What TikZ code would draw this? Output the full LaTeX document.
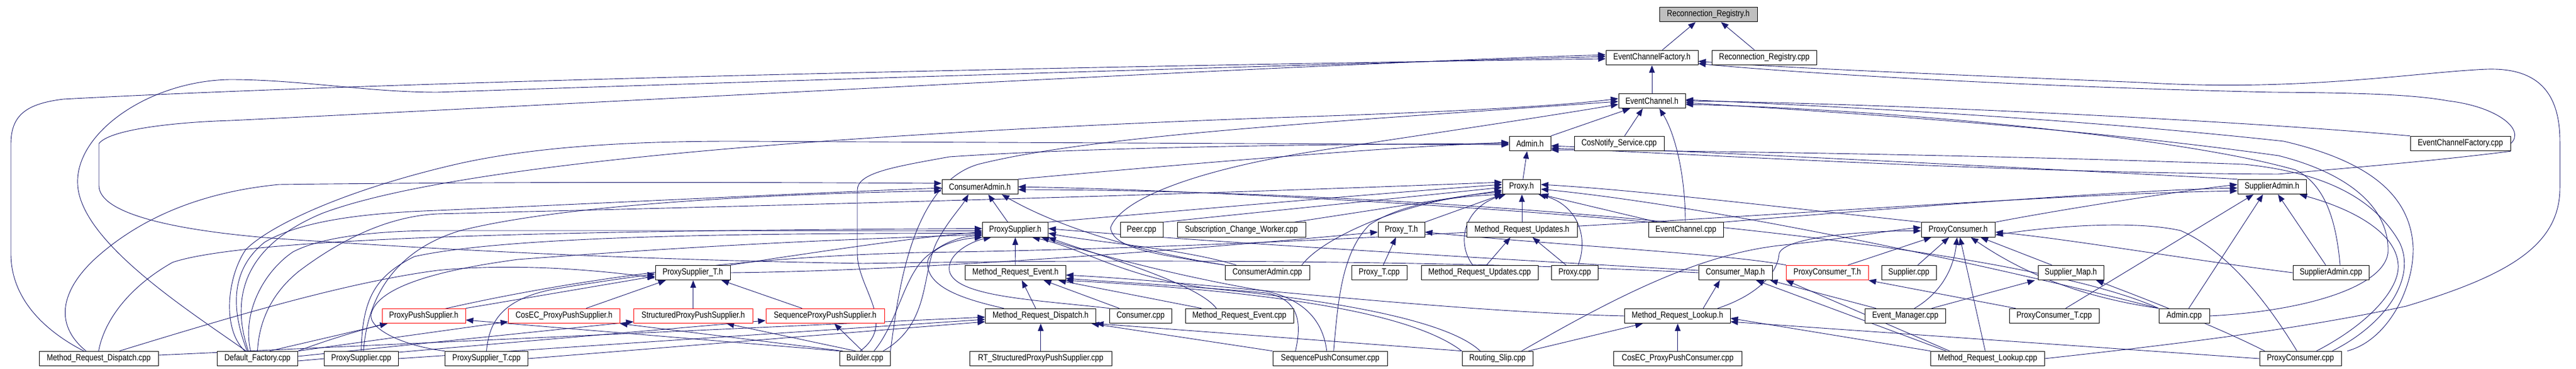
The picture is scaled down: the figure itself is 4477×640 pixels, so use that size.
\documentclass[tikz,border=0pt]{standalone}
\usepackage{fontspec}
\newfontfamily\dxfont[FakeStretch=0.84]{Liberation Sans}
\usetikzlibrary{arrows.meta}
\pgfdeclarelayer{bglayer}
\pgfdeclarelayer{edgelayer}
\pgfsetlayers{bglayer,edgelayer,main}
\definecolor{edgeblue}{RGB}{25,25,112}
\definecolor{rootgray}{RGB}{191,191,191}
\newcommand{\nd}[6]{\node[#1, minimum width={(#4-#3)*0.5pt}] (#2) at ({(#3+#4)/2},#5) {#6};}
\tikzset{
  nb/.style={draw=black, fill=white, line width=0.5pt, minimum height=12.75pt, inner sep=0pt,
    font=\dxfont\fontsize{7.7pt}{9pt}\selectfont},
  nr/.style={nb, draw=red},
  ng/.style={nb, fill=rootgray},
  ed/.style={draw=edgeblue, line width=0.45pt, -{Triangle[length=6.5pt,width=5pt]}}
}
\begin{document}
\begin{tikzpicture}[x=0.5pt,y=-0.5pt]
\begin{pgfonlayer}{bglayer}
\fill[white] (0,0) rectangle (4477,640);
\end{pgfonlayer}
\useasboundingbox (0,0) rectangle (4477,640);
% ---------------- nodes ----------------
\nd{ng}{rrh}{2884}{3054}{25}{Reconnection\_Registry.h}
\nd{nb}{ecfh}{2791}{2951}{100}{EventChannelFactory.h}
\nd{nb}{rrcpp}{2975.5}{3157}{100}{Reconnection\_Registry.cpp}
\nd{nb}{ech}{2813}{2929}{175}{EventChannel.h}
\nd{nb}{adminh}{2623}{2695}{249}{Admin.h}
\nd{nb}{cosnot}{2736}{2892}{249}{CosNotify\_Service.cpp}
\nd{nb}{ecfcpp}{4189}{4363}{249}{EventChannelFactory.cpp}
\nd{nb}{cah}{1637}{1769}{324}{ConsumerAdmin.h}
\nd{nb}{proxyh}{2611}{2677.5}{324}{Proxy.h}
\nd{nb}{sah}{3889}{4008}{324}{SupplierAdmin.h}
\nd{nb}{psh}{1707.5}{1821.5}{398.5}{ProxySupplier.h}
\nd{nb}{peer}{1947}{2021}{398.5}{Peer.cpp}
\nd{nb}{scw}{2046}{2269}{398.5}{Subscription\_Change\_Worker.cpp}
\nd{nb}{ptih}{2395}{2476}{398.5}{Proxy\_T.h}
\nd{nb}{mruh}{2549}{2741}{398.5}{Method\_Request\_Updates.h}
\nd{nb}{eccpp}{2865}{2995}{398.5}{EventChannel.cpp}
\nd{nb}{pch}{3339}{3467.5}{398.5}{ProxyConsumer.h}
\nd{nb}{psth}{1139}{1269}{473}{ProxySupplier\_T.h}
\nd{nb}{mreh}{1677.5}{1852}{473}{Method\_Request\_Event.h}
\nd{nb}{cacpp}{2129}{2276}{473}{ConsumerAdmin.cpp}
\nd{nb}{ptcpp}{2349}{2445}{473}{Proxy\_T.cpp}
\nd{nb}{mrucpp}{2470}{2673}{473}{Method\_Request\_Updates.cpp}
\nd{nb}{proxycpp}{2696.5}{2777}{473}{Proxy.cpp}
\nd{nb}{cmh}{2952}{3080}{473}{Consumer\_Map.h}
\nd{nr}{pcth}{3104.5}{3247}{473}{ProxyConsumer\_T.h}
\nd{nb}{supcpp}{3270}{3365}{473}{Supplier.cpp}
\nd{nb}{smh}{3542}{3656}{473}{Supplier\_Map.h}
\nd{nb}{sacpp}{3985}{4117}{473}{SupplierAdmin.cpp}
\nd{nr}{ppsh}{664}{809}{548}{ProxyPushSupplier.h}
\nd{nr}{cecppsh}{883.5}{1077}{548}{CosEC\_ProxyPushSupplier.h}
\nd{nr}{sppsh}{1101.5}{1308}{548}{StructuredProxyPushSupplier.h}
\nd{nr}{qppsh}{1331}{1537}{548}{SequenceProxyPushSupplier.h}
\nd{nb}{mrdh}{1712.5}{1904.5}{548}{Method\_Request\_Dispatch.h}
\nd{nb}{conscpp}{1928}{2036.5}{548}{Consumer.cpp}
\nd{nb}{mrecpp}{2060}{2248}{548}{Method\_Request\_Event.cpp}
\nd{nb}{mrlh}{2823.5}{3007}{548}{Method\_Request\_Lookup.h}
\nd{nb}{emcpp}{3241.5}{3381}{548}{Event\_Manager.cpp}
\nd{nb}{pctcpp}{3492}{3648}{548}{ProxyConsumer\_T.cpp}
\nd{nb}{admincpp}{3752}{3840}{548}{Admin.cpp}
\nd{nb}{mrdcpp}{68}{275}{622}{Method\_Request\_Dispatch.cpp}
\nd{nb}{dfcpp}{377.5}{517.5}{622}{Default\_Factory.cpp}
\nd{nb}{pscpp}{563.5}{692}{622}{ProxySupplier.cpp}
\nd{nb}{pstcpp}{773.5}{917.5}{622}{ProxySupplier\_T.cpp}
\nd{nb}{bldcpp}{1459}{1547}{622}{Builder.cpp}
\nd{nb}{rtcpp}{1685.5}{1932}{622}{RT\_StructuredProxyPushSupplier.cpp}
\nd{nb}{spccpp}{2212}{2411.5}{622}{SequencePushConsumer.cpp}
\nd{nb}{rscpp}{2541}{2664}{622}{Routing\_Slip.cpp}
\nd{nb}{cecpccpp}{2804.5}{3027}{622}{CosEC\_ProxyPushConsumer.cpp}
\nd{nb}{mrlcpp}{3355.5}{3553}{622}{Method\_Request\_Lookup.cpp}
\nd{nb}{pccpp}{3927}{4069}{622}{ProxyConsumer.cpp}
% ---------------- edges ----------------
\begin{pgfonlayer}{edgelayer}
% to Reconnection_Registry.h
\draw[ed] ([xshift=9pt]ecfh.north) -- ([xshift=-11pt]rrh.south);
\draw[ed] ([xshift=-8.5pt]rrcpp.north) -- ([xshift=11pt]rrh.south);
% to EventChannelFactory.h
\draw[ed] (ech.north) -- (ecfh.south);
\draw[ed] ([xshift=-13pt]mrdcpp.north) .. controls (80,575) and (19,520) .. (19,440) -- (19,250) .. controls (19,200) and (45,180) .. (110,172) .. controls (800,135) and (2200,110) .. ([yshift=-1pt]ecfh.west);
\draw[ed] ([xshift=-10pt]dfcpp.north) .. controls (330,540) and (140,420) .. (135,320) .. controls (130,230) and (260,140) .. (400,138) .. controls (520,138) and (640,160) .. (760,160) .. controls (1500,135) and (2300,112) .. ([yshift=1pt]ecfh.west);
\draw[ed] (cmh.west) .. controls (2500,450) and (1900,450) .. (1500,457) .. controls (1100,450) and (800,435) .. (485,414) .. controls (300,400) and (172,370) .. (172,322) -- (172,249) .. controls (190,225) and (300,212) .. (402,209) .. controls (1200,170) and (2300,110) .. ([yshift=2.5pt]ecfh.west);
\draw[ed] (ecfcpp.east) .. controls (4390,225) and (4340,185) .. (4255,175) .. controls (4200,165) and (4120,161) .. (3950,160) .. controls (3500,150) and (3100,125) .. ([yshift=1.5pt]ecfh.south east);
\draw[ed] (mrlcpp.east) .. controls (3800,595) and (4000,570) .. (4182,531) .. controls (4350,480) and (4449,430) .. (4449,326) -- (4449,245) .. controls (4449,150) and (4400,118) .. (4323,120) .. controls (4200,125) and (4000,160) .. (3720,143) .. controls (3400,130) and (3100,118) .. ([yshift=3.5pt]ecfh.south east);
% to EventChannel.h
\draw[ed] (adminh.north east) -- ([xshift=-19pt]ech.south);
\draw[ed] ([xshift=4.75pt]cosnot.north) -- ([xshift=-8pt]ech.south);
\draw[ed] ([xshift=-0.5pt]eccpp.north) .. controls (2929,300) and (2910,230) .. ([xshift=6.5pt]ech.south);
\draw[ed] (ecfcpp.north west) .. controls (3900,210) and (3300,180) .. (ech.east);
\draw[ed] ([xshift=-8pt]dfcpp.north) .. controls (395,500) and (440,420) .. (560,370) .. controls (800,280) and (1500,230) .. (2220,204) .. controls (2500,195) and (2700,185) .. ([yshift=2pt]ech.west);
\draw[ed] (bldcpp.north east) .. controls (1560,520) and (1580,320) .. (1700,285) .. controls (1900,235) and (2300,212) .. ([yshift=-0.5pt]ech.west);
\draw[ed] (cacpp.north west) .. controls (2000,440) and (1935,430) .. (1930,395) .. controls (1950,340) and (2100,290) .. (2300,260) .. controls (2500,230) and (2700,200) .. ([yshift=-3pt]ech.west);
\draw[ed] ([xshift=8pt]sacpp.north) .. controls (4060,380) and (4040,320) .. (3990,295) .. controls (3800,240) and (3300,190) .. ([yshift=-3pt]ech.east);
\draw[ed] (admincpp.east) .. controls (4000,540) and (4140,500) .. (4150,440) .. controls (4155,360) and (4080,300) .. (3960,270) .. controls (3600,220) and (3200,195) .. ([yshift=-1.5pt]ech.east);
\draw[ed] ([xshift=5pt]pccpp.north east) .. controls (4150,590) and (4195,500) .. (4194,430) .. controls (4190,340) and (4120,280) .. (3969,245) .. controls (3600,205) and (3200,185) .. ([yshift=1pt]ech.east);
% to Admin.h
\draw[ed] ([xshift=1.3pt]proxyh.north) -- ([xshift=-2.5pt]adminh.south);
\draw[ed] (cah.north east) .. controls (2000,290) and (2400,255) .. ([yshift=1pt]adminh.west);
\draw[ed] (sah.north west) .. controls (3500,290) and (3000,265) .. ([yshift=-2pt]adminh.east);
\draw[ed] ([xshift=-11pt]dfcpp.north) .. controls (385,570) and (395,480) .. (427,433) .. controls (470,390) and (600,330) .. (788,286) .. controls (900,260) and (1050,245) .. (1273,245) -- ([yshift=-1pt]adminh.west);
\draw[ed] ([xshift=-4pt]bldcpp.north) .. controls (1560,560) and (1490,500) .. (1490,440) -- (1490,330) .. controls (1490,300) and (1550,290) .. (1650,272) .. controls (1900,255) and (2300,250) .. (adminh.west);
\draw[ed] (ecfcpp.south east) .. controls (4250,277) and (4100,290) .. (3959,302) .. controls (3500,300) and (3000,270) .. ([yshift=-4pt]adminh.east);
\draw[ed] ([xshift=-8pt]pccpp.north east) .. controls (4150,560) and (4200,480) .. (4170,420) .. controls (4130,350) and (4050,300) .. (3900,285) .. controls (3500,270) and (3000,262) .. ([yshift=-5.5pt]adminh.east);
% to ConsumerAdmin.h
\draw[ed] ([xshift=-6.5pt]psh.north) -- ([xshift=7.25pt]cah.south);
\draw[ed] (cacpp.north west) .. controls (2000,440) and (1850,400) .. ([xshift=19pt]cah.south);
\draw[ed] ([xshift=16pt]bldcpp.north) .. controls (1620,560) and (1600,470) .. (1630,416) .. controls (1650,380) and (1670,360) .. ([xshift=-10pt]cah.south);
\draw[ed] ([xshift=-11pt]mrdcpp.north) .. controls (90,560) and (110,500) .. (165,449) .. controls (230,390) and (330,335) .. (485,320) .. controls (900,315) and (1300,316) .. ([yshift=3pt]cah.west);
\draw[ed] ([xshift=-9pt]dfcpp.north) .. controls (395,520) and (410,460) .. (460,420) .. controls (520,385) and (620,370) .. (760,365) .. controls (1100,350) and (1400,335) .. ([yshift=-1pt]cah.west);
\draw[ed] ([xshift=2pt]pscpp.north) .. controls (640,500) and (700,430) .. (800,400) .. controls (1000,350) and (1400,335) .. ([yshift=-3.5pt]cah.west);
\draw[ed] (eccpp.north west) .. controls (2600,360) and (2100,330) .. (cah.east);
\draw[ed] (admincpp.north west) .. controls (3500,420) and (2500,330) .. ([yshift=-2.5pt]cah.east);
% to Proxy.h
\draw[ed] (psh.north east) .. controls (2000,370) and (2400,335) .. ([yshift=2pt]proxyh.west);
\draw[ed] (pch.north west) .. controls (3100,360) and (2850,330) .. ([yshift=2pt]proxyh.east);
\draw[ed] (ptih.north east) -- (proxyh.south west);
\draw[ed] (mruh.north) -- (mruh.north |- proxyh.south);
\draw[ed] ([xshift=8pt]eccpp.north west) -- (proxyh.south east);
\draw[ed] (peer.north east) -- ([yshift=-0.5pt]proxyh.west);
\draw[ed] ([xshift=-10pt]scw.north east) -- ([yshift=-3pt]proxyh.west);
\draw[ed] ([xshift=-6pt]mrucpp.north) .. controls (2530,420) and (2545,360) .. ([xshift=3pt]proxyh.south west);
\draw[ed] ([xshift=3pt]proxycpp.north) .. controls (2762,410) and (2740,355) .. ([xshift=-2pt]proxyh.south east);
\draw[ed] ([xshift=30pt]cacpp.north) .. controls (2300,410) and (2450,345) .. ([yshift=-4.5pt]proxyh.west);
\draw[ed] ([xshift=3pt]spccpp.north) .. controls (2325,530) and (2330,440) .. (2380,390) .. controls (2440,350) and (2540,340) .. ([xshift=1pt]proxyh.south west);
\draw[ed] (dfcpp.north) .. controls (450,560) and (470,510) .. (520,470) .. controls (600,410) and (680,375) .. (760,371) .. controls (1400,355) and (2000,340) .. ([yshift=4pt]proxyh.west);
\draw[ed] (admincpp.north west) .. controls (3500,470) and (3000,360) .. ([yshift=-2pt]proxyh.east);
% to SupplierAdmin.h
\draw[ed] (pch.north east) .. controls (3600,360) and (3800,330) .. ([yshift=2pt]sah.west);
\draw[ed] ([xshift=4pt]admincpp.north) -- ([xshift=-7.75pt]sah.south);
\draw[ed] ([xshift=10pt]pctcpp.north) -- ([xshift=-16pt]sah.south);
\draw[ed] ([xshift=-4.5pt]sacpp.north) -- ([xshift=5.25pt]sah.south);
\draw[ed] ([xshift=14pt]pccpp.north) .. controls (4120,560) and (4170,500) .. (4168,460) .. controls (4165,400) and (4080,360) .. ([xshift=24pt]sah.south);
\draw[ed] (eccpp.north east) .. controls (3300,360) and (3700,330) .. ([yshift=-1pt]sah.west);
\draw[ed] (dfcpp.north east) .. controls (700,540) and (1100,450) .. (1600,438) .. controls (2500,425) and (3400,340) .. ([yshift=-3.5pt]sah.west);
% to ProxySupplier.h
\draw[ed] (psth.north east) .. controls (1400,440) and (1600,410) .. ([yshift=-2pt]psh.west);
\draw[ed] (mreh.north) -- (psh.south);
\draw[ed] ([xshift=-32pt]mrdh.north) .. controls (1680,520) and (1610,500) .. (1612,455) .. controls (1615,430) and (1660,415) .. (psh.south west);
\draw[ed] ([xshift=-27pt]conscpp.north) .. controls (1800,520) and (1660,515) .. (1650,470) .. controls (1645,440) and (1690,418) .. ([xshift=-21pt]psh.south);
\draw[ed] ([xshift=10pt]cacpp.north west) .. controls (2050,430) and (1900,420) .. ([yshift=-3pt]psh.east);
\draw[ed] ([xshift=-20pt]mrecpp.north) .. controls (2080,490) and (1900,440) .. (psh.south east);
\draw[ed] ([yshift=2pt]cmh.west) .. controls (2700,455) and (2100,420) .. ([yshift=1pt]psh.east);
\draw[ed] ([xshift=-3pt]spccpp.north) .. controls (2300,560) and (2270,520) .. (2200,505) .. controls (2050,480) and (1900,440) .. ([xshift=-6pt]psh.south east);
\draw[ed] ([xshift=-15pt]rscpp.north) .. controls (2500,540) and (2200,510) .. (2100,500) .. controls (1950,480) and (1880,430) .. ([xshift=-14pt]psh.south east);
\draw[ed] (mrdcpp.north) .. controls (180,560) and (220,500) .. (300,455) .. controls (420,415) and (900,400) .. ([yshift=1pt]psh.west);
\draw[ed] ([xshift=-6pt]dfcpp.north) .. controls (420,540) and (460,470) .. (509,437) .. controls (560,410) and (660,400) .. (760,400) .. controls (1200,400) and (1500,400) .. ([yshift=-1pt]psh.west);
\draw[ed] (pscpp.north) .. controls (630,520) and (650,480) .. (720,445) .. controls (900,405) and (1400,405) .. ([yshift=-3pt]psh.west);
\draw[ed] (pstcpp.north west) .. controls (700,600) and (640,570) .. (645,545) .. controls (655,500) and (750,470) .. (900,450) .. controls (1300,420) and (1500,415) .. ([yshift=-4pt]psh.west);
\draw[ed] ([xshift=8pt]bldcpp.north) .. controls (1560,560) and (1570,480) .. (1610,445) .. controls (1640,420) and (1670,410) .. ([yshift=-5pt]psh.west);
% to Proxy_T.h
\draw[ed] (psth.east) .. controls (1600,470) and (2100,430) .. ([yshift=-2pt]ptih.west);
\draw[ed] (pcth.north west) .. controls (3000,440) and (2700,425) .. ([yshift=-2pt]ptih.east);
\draw[ed] ([xshift=3.5pt]ptcpp.north) -- ([xshift=-4.75pt]ptih.south);
% to Method_Request_Updates.h
\draw[ed] ([xshift=6pt]mrucpp.north) -- ([xshift=-10pt]mruh.south);
\draw[ed] ([xshift=-7.5pt]proxycpp.north) -- ([xshift=9.25pt]mruh.south);
% to ProxyConsumer.h
\draw[ed] ([xshift=18pt]pcth.north) -- ([xshift=9pt]pch.south west);
\draw[ed] ([xshift=7.75pt]supcpp.north) -- ([xshift=-8pt]pch.south);
\draw[ed] ([xshift=-16.5pt]smh.north) -- ([xshift=19.5pt]pch.south);
\draw[ed] ([xshift=8pt]emcpp.north) .. controls (3370,510) and (3395,470) .. ([xshift=-1pt]pch.south);
\draw[ed] ([xshift=-2pt]mrlcpp.north) -- ([xshift=1.5pt]pch.south);
\draw[ed] (sacpp.west) .. controls (3800,450) and (3600,415) .. ([yshift=-2pt]pch.east);
\draw[ed] ([xshift=-3pt]pccpp.north) .. controls (3950,540) and (3880,440) .. (3790,400) .. controls (3700,380) and (3550,395) .. ([yshift=-4.5pt]pch.east);
\draw[ed] (admincpp.north west) .. controls (3650,520) and (3540,490) .. ([xshift=11pt]pch.south);
\draw[ed] ([xshift=35pt]mrlh.north) .. controls (3060,510) and (3090,470) .. (3092,440) .. controls (3100,410) and (3250,400) .. ([yshift=-1pt]pch.west);
\draw[ed] ([xshift=-10pt]rscpp.north east) .. controls (2800,520) and (2950,440) .. (3100,425) .. controls (3200,415) and (3280,400) .. ([yshift=2pt]pch.west);
% to ProxySupplier_T.h
\draw[ed] (ppsh.north east) -- ([yshift=-3pt]psth.west);
\draw[ed] ([xshift=19.2pt]cecppsh.north) -- ([xshift=-23.5pt]psth.south);
\draw[ed] (sppsh.north) -- (sppsh.north |- psth.south);
\draw[ed] ([xshift=-20pt]qppsh.north) -- ([xshift=25pt]psth.south);
\draw[ed] (pstcpp.north) .. controls (850,560) and (870,520) .. (960,502) .. controls (1030,490) and (1090,482) .. ([yshift=-1pt]psth.west);
\draw[ed] ([xshift=18pt]mrdcpp.north) .. controls (400,550) and (600,490) .. (760,469) .. controls (900,455) and (1050,470) .. ([yshift=-4.5pt]psth.west);
% to Method_Request_Event.h
\draw[ed] ([xshift=-4.25pt]mrdh.north) -- ([xshift=5.6pt]mreh.south);
\draw[ed] ([xshift=-18.5pt]conscpp.north) -- ([xshift=24.6pt]mreh.south);
\draw[ed] ([xshift=-33pt]mrecpp.north) -- ([xshift=-6.5pt]mreh.south east);
\draw[ed] (mrlh.west) .. controls (2500,540) and (2100,490) .. ([yshift=-2pt]mreh.east);
\draw[ed] (rscpp.north west) .. controls (2450,540) and (2200,505) .. (mreh.south east);
\draw[ed] ([xshift=20pt]spccpp.north west) .. controls (2260,570) and (2265,520) .. (2200,508) .. controls (2050,495) and (1950,490) .. ([yshift=-5pt]mreh.east);
% to Consumer_Map.h
\draw[ed] ([xshift=22.4pt]mrlh.north) -- ([xshift=-13.5pt]cmh.south);
\draw[ed] ([xshift=-25.4pt]emcpp.north) -- ([xshift=-2pt]cmh.south east);
\draw[ed] ([xshift=-36pt]mrlcpp.north) -- ([xshift=18pt]cmh.south);
% to ProxyConsumer_T.h
\draw[ed] ([xshift=-33.5pt]pctcpp.north) -- (pcth.south east);
\draw[ed] ([xshift=-33pt]mrlcpp.north) -- (pcth.south west);
% to Supplier_Map.h
\draw[ed] ([xshift=23pt]emcpp.north) -- ([xshift=-2.5pt]smh.south west);
\draw[ed] ([xshift=-31pt]pccpp.north) .. controls (3870,575) and (3760,530) .. ([xshift=22pt]smh.south);
% to the push supplier headers
\draw[ed] ([xshift=10.6pt]dfcpp.north) -- ([xshift=5pt]ppsh.south west);
\draw[ed] (bldcpp.north west) -- ([yshift=-3.5pt]ppsh.east);
\draw[ed] (dfcpp.north east) -- ([yshift=-5pt]cecppsh.west);
\draw[ed] ([xshift=3pt]bldcpp.north west) -- (cecppsh.south east);
\draw[ed] ([yshift=2pt]dfcpp.east) -- ([yshift=-5pt]sppsh.west);
\draw[ed] ([xshift=-8pt]bldcpp.north) -- ([xshift=29pt]sppsh.south);
\draw[ed] ([yshift=-2pt]dfcpp.east) -- ([yshift=-4pt]qppsh.west);
\draw[ed] ([xshift=-2pt]bldcpp.north) -- ([xshift=8pt]qppsh.south);
% to Method_Request_Dispatch.h
\draw[ed] (rtcpp.north) -- (rtcpp.north |- mrdh.south);
\draw[ed] ([yshift=3pt]mrdcpp.east) -- ([yshift=-1pt]mrdh.west);
\draw[ed] (pscpp.east) -- ([yshift=-3pt]mrdh.west);
\draw[ed] (pstcpp.east) -- ([yshift=-5pt]mrdh.west);
\draw[ed] (rscpp.north west) -- (mrdh.south east);
\draw[ed] (spccpp.north west) -- ([xshift=-4pt]mrdh.south east);
% to Method_Request_Lookup.h
\draw[ed] (cecpccpp.north) -- (cecpccpp.north |- mrlh.south);
\draw[ed] ([xshift=-4pt]rscpp.north east) -- ([xshift=16pt]mrlh.south west);
\draw[ed] (mrlcpp.north west) -- ([yshift=-2pt]mrlh.east);
\draw[ed] (pccpp.west) -- ([yshift=-5pt]mrlh.east);
\end{pgfonlayer}
\end{tikzpicture}
\end{document}
